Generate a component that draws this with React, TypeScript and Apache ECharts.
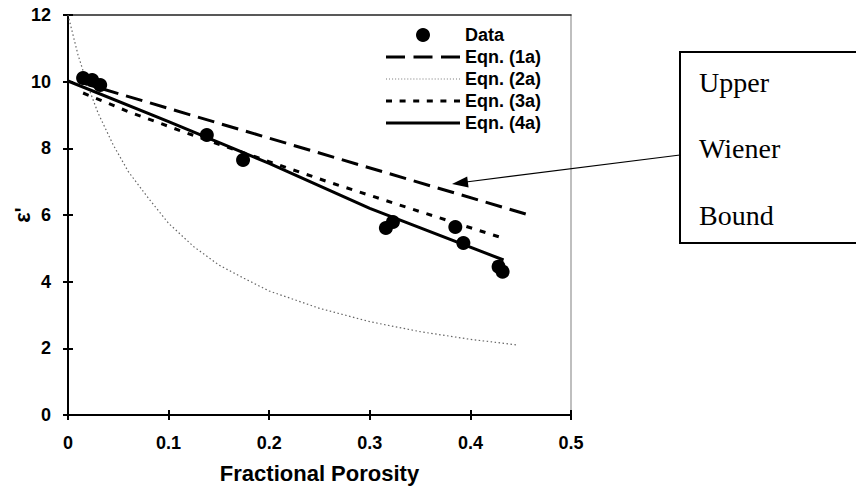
import React, { useEffect, useRef } from "react";
import * as echarts from "echarts";

// ---- data ----
const xTicks = [0, 0.1, 0.2, 0.3, 0.4, 0.5];
const yTicks = [0, 2, 4, 6, 8, 10, 12];

const dataX = [0.015, 0.024, 0.032, 0.138, 0.174, 0.316, 0.323, 0.385, 0.393, 0.428, 0.432];
const dataY = [10.11, 10.05, 9.9, 8.4, 7.65, 5.61, 5.79, 5.64, 5.16, 4.45, 4.3];

const eq1aX = [0.01, 0.455];
const eq1aY = [10.0, 6.03];

const eq2aX = [0, 0.01, 0.02, 0.03, 0.045, 0.06, 0.08, 0.1, 0.125, 0.15, 0.175, 0.2, 0.25, 0.3, 0.35, 0.4, 0.447];
const eq2aY = [12.0, 10.8, 9.85, 9.05, 8.1, 7.3, 6.5, 5.75, 5.05, 4.5, 4.1, 3.72, 3.2, 2.8, 2.5, 2.27, 2.1];

const eq3aX = [0.015, 0.06, 0.118, 0.2, 0.258, 0.35, 0.433];
const eq3aY = [9.66, 9.1, 8.46, 7.6, 7.0, 6.1, 5.3];

const eq4aX = [0, 0.1, 0.2, 0.3, 0.433];
const eq4aY = [10.02, 8.8, 7.55, 6.2, 4.65];

const seriesNames = ["Data", "Eqn. (1a)", "Eqn. (2a)", "Eqn. (3a)", "Eqn. (4a)"];
const boxLines = ["Upper", "Wiener", "Bound"];

const pairs = (xs: number[], ys: number[]) => xs.map((x, i) => [x, ys[i]]);

const SANS = "'Liberation Sans', Arial, Helvetica, sans-serif";
const SERIF = "'Liberation Serif', 'Times New Roman', serif";
const INK = "#000";

// legend icon paths (74 x 3 strips reproducing each line pattern)
const dashIcon = (starts: number[], len: number, h: number) =>
  "path://" + starts.map((s) => `M${s},0h${len}v${h}h-${len}z`).join(" ");
const iconDashed = dashIcon([0, 27.5, 55], 19, 3);
const iconDotted = dashIcon(Array.from({ length: 25 }, (_, i) => i * 3.04), 1, 1);
const iconShort = dashIcon([0, 13.6, 27.2, 40.8, 54.4, 68], 6, 3);
const iconSolid = "path://M0,0h74v3h-74z";

export default function App() {
  const ref = useRef<HTMLDivElement>(null);

  useEffect(() => {
    if (!ref.current) return;
    const chart = echarts.init(ref.current, null, { renderer: "svg" });

    const xMin = xTicks[0];
    const xMax = xTicks[xTicks.length - 1];
    const yMin = yTicks[0];
    const yMax = yTicks[yTicks.length - 1];
    const xInt = xTicks[1] - xTicks[0];
    const yInt = yTicks[1] - yTicks[0];

    const fmtX = (v: number) => (Math.abs(v) < 1e-9 ? "0" : v.toFixed(1));
    const icons = ["circle", iconDashed, iconDotted, iconShort, iconSolid];

    const option: any = {
      animation: false,
      backgroundColor: "#fff",
      textStyle: { fontFamily: SANS },
      grid: { left: 68, right: 285, top: 15, bottom: 78, containLabel: false, outerBoundsMode: "none" },
      legend: {
        orient: "vertical",
        left: 386,
        top: 25,
        padding: 0,
        itemWidth: 74,
        itemHeight: 14,
        itemGap: 2,
        symbolKeepAspect: true,
        textStyle: { fontSize: 18, fontWeight: "bold", color: INK, fontFamily: SANS, lineHeight: 20 },
        data: seriesNames.map((n, i) => ({ name: n, icon: icons[i] })),
      },
      xAxis: [
        {
          type: "value",
          min: xMin,
          max: xMax,
          interval: xInt,
          position: "bottom",
          axisLine: { show: true, onZero: false, lineStyle: { color: INK, width: 2 } },
          axisTick: { show: true, length: 5, lineStyle: { color: INK, width: 2 } },
          axisLabel: {
            formatter: fmtX,
            fontSize: 18,
            fontWeight: "bold",
            color: INK,
            margin: 19,
            fontFamily: SANS,
          },
          splitLine: { show: false },
          name: "Fractional Porosity",
          nameLocation: "middle",
          nameGap: 47,
          nameTextStyle: { fontSize: 22, fontWeight: "bold", color: INK, fontFamily: SANS },
        },
        {
          type: "value",
          min: xMin,
          max: xMax,
          interval: xInt,
          position: "bottom",
          axisLine: { show: false, onZero: false },
          axisTick: { show: true, inside: true, length: 5, lineStyle: { color: INK, width: 2 } },
          axisLabel: { show: false },
          splitLine: { show: false },
        },
        {
          type: "value",
          min: xMin,
          max: xMax,
          position: "top",
          axisLine: { show: true, onZero: false, lineStyle: { color: "#222", width: 1.5 } },
          axisTick: { show: false },
          axisLabel: { show: false },
          splitLine: { show: false },
        },
      ],
      yAxis: [
        {
          type: "value",
          min: yMin,
          max: yMax,
          interval: yInt,
          position: "left",
          axisLine: { show: true, onZero: false, lineStyle: { color: INK, width: 2 } },
          axisTick: { show: true, length: 5, lineStyle: { color: INK, width: 2 } },
          axisLabel: {
            fontSize: 18,
            fontWeight: "bold",
            color: INK,
            margin: 17,
            fontFamily: SANS,
          },
          splitLine: { show: false },
          name: "ε'",
          nameLocation: "middle",
          nameGap: 35,
          nameRotate: 90,
          nameMoveOverlap: false,
          nameTextStyle: { fontSize: 22, fontWeight: "bold", color: INK, fontFamily: SANS },
        },
        {
          type: "value",
          min: yMin,
          max: yMax,
          interval: yInt,
          position: "left",
          axisLine: { show: false, onZero: false },
          axisTick: { show: true, inside: true, length: 5, lineStyle: { color: INK, width: 2 } },
          axisLabel: { show: false },
          splitLine: { show: false },
        },
        {
          type: "value",
          min: yMin,
          max: yMax,
          position: "right",
          axisLine: { show: true, onZero: false, lineStyle: { color: "#aaa", width: 1.5 } },
          axisTick: { show: false },
          axisLabel: { show: false },
          splitLine: { show: false },
        },
      ],
      series: [
        {
          name: seriesNames[0],
          type: "scatter",
          symbol: "circle",
          symbolSize: 14,
          itemStyle: { color: INK, opacity: 1 },
          data: pairs(dataX, dataY),
          z: 5,
        },
        {
          name: seriesNames[1],
          type: "line",
          symbol: "none",
          lineStyle: { color: INK, width: 3, type: [17, 8] },
          itemStyle: { color: INK },
          data: pairs(eq1aX, eq1aY),
          z: 3,
        },
        {
          name: seriesNames[2],
          type: "line",
          symbol: "none",
          lineStyle: { color: "#666", width: 1.2, type: [1.5, 2.5] },
          itemStyle: { color: "#777" },
          data: pairs(eq2aX, eq2aY),
          z: 3,
        },
        {
          name: seriesNames[3],
          type: "line",
          symbol: "none",
          lineStyle: { color: INK, width: 3, type: [6, 8] },
          itemStyle: { color: INK },
          data: pairs(eq3aX, eq3aY),
          z: 3,
        },
        {
          name: seriesNames[4],
          type: "line",
          symbol: "none",
          lineStyle: { color: INK, width: 3 },
          itemStyle: { color: INK },
          data: pairs(eq4aX, eq4aY),
          z: 4,
        },
      ],
      graphic: [
        {
          type: "rect",
          shape: { x: 680, y: 52, width: 190, height: 191 },
          style: { fill: "#fff", stroke: "#000", lineWidth: 2 },
          z: 10,
        },
        ...boxLines.map((t, i) => ({
          type: "text",
          x: 699,
          y: 82 + i * 66.5,
          style: {
            text: t,
            font: `28px ${SERIF}`,
            fill: "#000",
            verticalAlign: "middle",
          },
          z: 11,
        })),
        {
          type: "line",
          shape: { x1: 680, y1: 155, x2: 466, y2: 182 },
          style: { stroke: "#000", lineWidth: 1.2 },
          z: 10,
        },
        {
          type: "polygon",
          shape: {
            points: [
              [452, 184],
              [468.6, 187.5],
              [467.2, 176.5],
            ],
          },
          style: { fill: "#000" },
          z: 10,
        },
      ],
    };

    chart.setOption(option);
    return () => chart.dispose();
  }, []);

  return (
    <div
      ref={ref}
      style={{ position: "fixed", left: 0, top: 0, width: 856, height: 493, background: "#fff" }}
    />
  );
}
